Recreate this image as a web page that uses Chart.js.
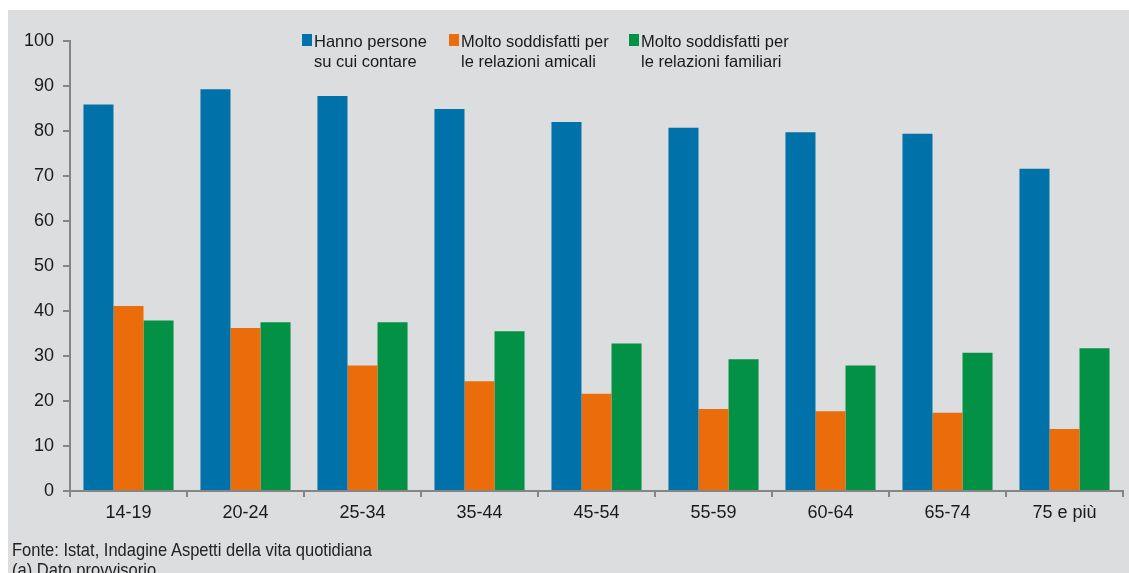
<!DOCTYPE html>
<html>
<head>
<meta charset="utf-8">
<script src="https://cdn.jsdelivr.net/npm/chart.js@4/dist/chart.umd.min.js"></script>
<style>
  html, body { margin: 0; padding: 0; background: #fff; overflow: hidden; }
  #panel { position: absolute; left: 8px; top: 10px; width: 1121px; height: 563px; background: #dcdddf; overflow: hidden; }
  #wrap { position: absolute; left: 0; top: 0; width: 1121px; height: 530px; }
  #note {
    position: absolute; left: 4px; top: 530px; white-space: nowrap;
    font-family: "Liberation Sans", Arial, sans-serif;
    font-size: 19px; line-height: 20px; color: #222;
    transform-origin: 0 0;
  }
</style>
</head>
<body>
<div id="panel">
  <div id="wrap"><canvas id="chart"></canvas></div>
  <div id="note">Fonte: Istat, Indagine Aspetti della vita quotidiana<br>(a) Dato provvisorio.</div>
</div>
<script>
/* ===== DATA ===== */

const categories = ['14-19', '20-24', '25-34', '35-44', '45-54', '55-59', '60-64', '65-74', '75 e più'];

// Hanno persone su cui contare
const personeData = [85.9, 89.3, 87.8, 84.9, 82.0, 80.7, 79.7, 79.4, 71.6];
// Molto soddisfatti per le relazioni amicali
const amicaliData = [41.1, 36.2, 27.9, 24.4, 21.6, 18.2, 17.7, 17.4, 13.8];
// Molto soddisfatti per le relazioni familiari
const familiariData = [37.9, 37.5, 37.5, 35.5, 32.8, 29.3, 27.9, 30.7, 31.7];

const seriesLabels = [
  ['Hanno persone', 'su cui contare'],
  ['Molto soddisfatti per', 'le relazioni amicali'],
  ['Molto soddisfatti per', 'le relazioni familiari'],
];

const yTicks = [0, 10, 20, 30, 40, 50, 60, 70, 80, 90, 100];

/* ===== HELPERS ===== */

const FONT_FAMILY = '"Liberation Sans", Arial, sans-serif';
const AXIS_COLOR = '#858585';
const TEXT_COLOR = '#1a1a1a';
const COLORS = ['#0072a9', '#ea6c0a', '#039245'];

// Source note uses a condensed face in the original: squeeze it to width
(function() {
  const note = document.getElementById('note');
  const w = note.getBoundingClientRect().width;
  note.style.transform = 'scaleX(' + (360 / w) + ')';
})();

// Two-line legend drawn on top of the plot
const legendPlugin = {
  id: 'twoLineLegend',
  afterDraw(chart) {
    const { ctx, chartArea } = chart;
    const offsets = [232, 379, 559];
    ctx.save();
    ctx.font = '16.5px ' + FONT_FAMILY;
    ctx.textBaseline = 'alphabetic';
    seriesLabels.forEach((lines, i) => {
      const x = chartArea.left + offsets[i];
      const y = chartArea.top - 7;
      ctx.fillStyle = COLORS[i];
      ctx.fillRect(x, y, 10, 12);
      ctx.fillStyle = TEXT_COLOR;
      ctx.fillText(lines[0], x + 12, y + 13);
      ctx.fillText(lines[1], x + 12, y + 33);
    });
    ctx.restore();
  }
};

function dataset(label, data, color) {
  return {
    label,
    data,
    backgroundColor: color,
    borderWidth: 0,
    categoryPercentage: 0.77,
    barPercentage: 1.0,
  };
}

/* ===== CHART ===== */

(function() {
  const ctx = document.getElementById('chart');

  new Chart(ctx, {
    type: 'bar',
    data: {
      labels: categories,
      datasets: [
        dataset(seriesLabels[0].join(' '), personeData, COLORS[0]),
        dataset(seriesLabels[1].join(' '), amicaliData, COLORS[1]),
        dataset(seriesLabels[2].join(' '), familiariData, COLORS[2]),
      ]
    },
    options: {
      responsive: true,
      maintainAspectRatio: false,
      animation: false,
      layout: { padding: { top: 31, right: 6, left: 0, bottom: 0 } },
      plugins: {
        legend: { display: false },
        tooltip: { enabled: false }
      },
      scales: {
        x: {
          offset: true,
          grid: {
            display: true,
            offset: true,
            drawOnChartArea: false,
            drawTicks: true,
            tickLength: 6,
            color: AXIS_COLOR,
            lineWidth: 2,
          },
          border: { color: AXIS_COLOR, width: 2 },
          ticks: {
            font: { family: FONT_FAMILY, size: 18 },
            color: TEXT_COLOR,
            maxRotation: 0,
            padding: 5,
          },
          afterFit(scale) { scale.height = 49; }
        },
        y: {
          min: 0,
          max: 100,
          afterBuildTicks(scale) { scale.ticks = yTicks.map(v => ({ value: v })); },
          grid: {
            drawOnChartArea: false,
            drawTicks: true,
            tickLength: 7,
            color: AXIS_COLOR,
            lineWidth: 2,
          },
          border: { color: AXIS_COLOR, width: 2 },
          ticks: {
            font: { family: FONT_FAMILY, size: 18 },
            color: TEXT_COLOR,
            padding: 9,
          },
          afterFit(scale) { scale.width = 62; }
        }
      }
    },
    plugins: [legendPlugin]
  });
})();
</script>
</body>
</html>
